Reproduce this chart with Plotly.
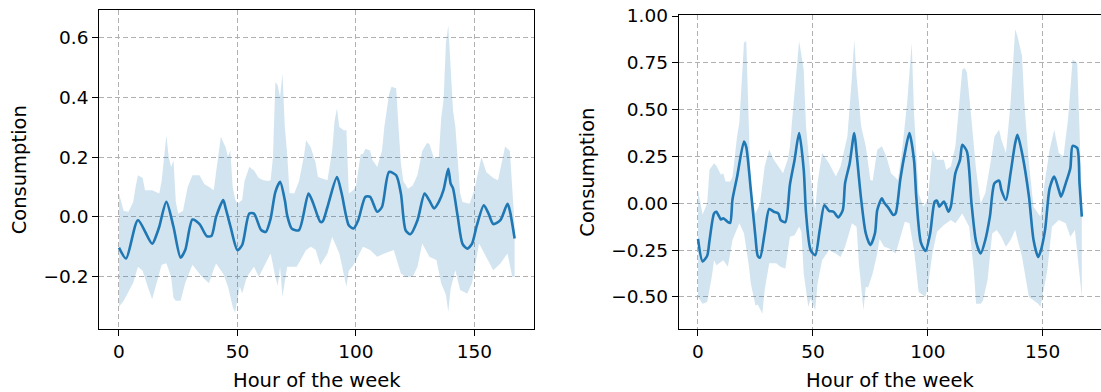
import plotly.graph_objects as go

# ---------------- Left panel data (hour of week, value) ----------------
left_mean_hours = [0, 3, 8, 14, 16, 17, 20, 23, 26, 28, 31, 34, 37, 39, 41, 44, 45, 47, 50, 52,
                   55, 57, 60, 62, 64, 66, 68, 70, 71, 73, 76, 80, 82, 85, 86, 88, 92, 94, 97, 99,
                   101, 104, 106, 109, 111, 114, 117, 119, 121, 123, 126, 129, 131, 133, 135, 137,
                   139, 140, 141, 143, 145, 147, 149, 151, 154, 156, 158, 161, 164, 165, 167]
left_mean = [-0.103, -0.139, -0.011, -0.09, -0.056, -0.033, 0.05, -0.033, -0.136, -0.11, -0.009,
             -0.024, -0.064, -0.064, 0.0, 0.056, 0.03, -0.03, -0.111, -0.094, 0.011, 0.011, -0.044,
             -0.05, -0.006, 0.083, 0.117, 0.056, 0.005, -0.04, -0.044, 0.078, 0.045, -0.017, -0.015,
             0.033, 0.133, 0.078, -0.028, -0.039, -0.011, 0.067, 0.067, 0.017, 0.033, 0.15, 0.139,
             0.078, -0.045, -0.058, -0.011, 0.078, 0.055, 0.028, 0.05, 0.09, 0.161, 0.111, 0.095,
             0.0, -0.09, -0.106, -0.09, -0.03, 0.039, 0.011, -0.024, -0.011, 0.044, 0.02, -0.072]

left_upper_hours = [0, 1, 2, 4, 6, 7, 8, 10, 11, 14, 17, 18, 20, 21, 22, 23, 24, 25, 27, 29, 31, 34,
                    36, 38, 40, 41, 42, 43, 45, 46, 47, 48, 49, 50, 52, 53, 55, 57, 59, 61, 63, 64,
                    65, 66, 67, 68, 69, 70, 71, 72, 74, 76, 78, 79, 81, 83, 84, 86, 88, 90, 91, 92,
                    93, 95, 96, 97, 99, 100, 102, 103, 104, 106, 107, 109, 111, 112, 114, 115, 117,
                    118, 119, 120, 122, 124, 126, 128, 130, 131, 133, 135, 136, 137, 138, 139, 140,
                    141, 142, 143, 144, 145, 148, 150, 152, 153, 155, 158, 160, 162, 163, 165, 166, 167]
left_upper = [0.078, 0.05, 0.02, 0.017, 0.05, 0.1, 0.139, 0.13, 0.089, 0.089, 0.078, 0.12, 0.272,
              0.2, 0.167, 0.189, 0.05, 0.011, 0.02, 0.1, 0.139, 0.139, 0.11, 0.1, 0.089, 0.15, 0.21,
              0.268, 0.233, 0.2, 0.222, 0.1, 0.06, 0.044, 0.056, 0.12, 0.167, 0.155, 0.13, 0.122,
              0.12, 0.122, 0.2, 0.45, 0.44, 0.4, 0.48, 0.3, 0.21, 0.08, 0.078, 0.12, 0.2, 0.256,
              0.232, 0.18, 0.133, 0.128, 0.122, 0.222, 0.32, 0.362, 0.3, 0.289, 0.29, 0.078, 0.09,
              0.1, 0.21, 0.21, 0.228, 0.222, 0.19, 0.167, 0.22, 0.3, 0.41, 0.435, 0.43, 0.3, 0.18,
              0.12, 0.094, 0.105, 0.14, 0.22, 0.247, 0.244, 0.195, 0.2, 0.33, 0.39, 0.58, 0.64,
              0.5, 0.356, 0.3, 0.19, 0.08, 0.05, 0.044, 0.09, 0.16, 0.2, 0.15, 0.13, 0.122, 0.2,
              0.235, 0.22, 0.1, -0.03]

left_lower_hours = [0, 2, 4, 6, 8, 10, 12, 14, 16, 18, 20, 22, 23, 24, 26, 28, 31, 33, 35, 38, 40,
                    41, 44, 46, 48, 49, 51, 52, 54, 57, 59, 61, 64, 66, 67, 68, 69, 71, 75, 79, 81,
                    83, 85, 88, 90, 93, 96, 97, 99, 103, 106, 109, 112, 116, 119, 121, 124, 126,
                    128, 131, 134, 136, 138, 139, 140, 142, 144, 147, 149, 152, 154, 158, 161, 164,
                    166, 167]
left_lower = [-0.30, -0.28, -0.25, -0.22, -0.167, -0.18, -0.23, -0.275, -0.22, -0.16, -0.155, -0.2,
              -0.27, -0.28, -0.28, -0.22, -0.16, -0.18, -0.2, -0.222, -0.175, -0.156, -0.19, -0.233,
              -0.30, -0.32, -0.233, -0.256, -0.2, -0.167, -0.2, -0.167, -0.122, -0.2, -0.23, -0.167,
              -0.267, -0.167, -0.167, -0.111, -0.1, -0.11, -0.161, -0.122, -0.067, -0.122, -0.233,
              -0.18, -0.161, -0.1, -0.111, -0.133, -0.122, -0.111, -0.189, -0.2, -0.2, -0.167,
              -0.089, -0.133, -0.144, -0.222, -0.26, -0.317, -0.24, -0.178, -0.244, -0.256, -0.222,
              -0.089, -0.122, -0.178, -0.156, -0.122, -0.2, -0.2]

# ---------------- Right panel data ----------------
right_mean_hours = [0, 2, 4, 5, 7, 8, 10, 11, 13, 14, 15, 17, 20, 21, 23, 25, 26, 27, 29, 31, 33,
                    35, 36, 38, 40, 42, 44, 46, 47, 49, 51, 53, 55, 57, 59, 61, 63, 64, 66, 68, 69,
                    71, 73, 75, 77, 78, 80, 81, 83, 85, 86, 88, 90, 92, 94, 95, 97, 99, 101, 103,
                    104, 105, 107, 109, 110, 112, 114, 115, 117, 119, 121, 123, 125, 127, 129, 131,
                    132, 134, 136, 138, 139, 141, 144, 146, 148, 149, 151, 153, 155, 157, 158, 160,
                    162, 163, 165, 166, 167]
right_mean = [-0.19, -0.31, -0.28, -0.2, -0.054, -0.045, -0.086, -0.08, -0.1, -0.105, 0.02, 0.14,
              0.33, 0.3, 0.07, -0.18, -0.28, -0.29, -0.16, -0.03, -0.045, -0.055, -0.09, -0.1, 0.1,
              0.23, 0.375, 0.18, -0.05, -0.25, -0.277, -0.14, -0.01, -0.04, -0.045, -0.075,
              -0.036, 0.107, 0.214, 0.375, 0.268, 0.02, -0.16, -0.223, -0.16, -0.036, 0.027, 0.004,
              -0.027, -0.0625, -0.054, 0.125, 0.268, 0.375, 0.23, 0.03, -0.21, -0.254, -0.161,
              0.009, 0.014, -0.018, 0.009, -0.045, -0.018, 0.161, 0.232, 0.3125, 0.277, 0.0,
              -0.205, -0.268, -0.196, -0.071, 0.107, 0.121, 0.071, 0.018, 0.161, 0.321, 0.366,
              0.268, 0.036, -0.196, -0.286, -0.259, -0.143, 0.08, 0.143, 0.071, 0.036, 0.107,
              0.1875, 0.307, 0.295, 0.107, -0.071]

right_upper_hours = [0, 2, 4, 5, 7, 8, 10, 11, 12, 14, 15, 17, 18, 19, 20, 21, 22, 23, 25, 27, 29,
                     31, 33, 35, 37, 39, 40, 41, 43, 44, 46, 47, 49, 51, 52, 54, 57, 60, 62, 65, 67,
                     68, 69, 71, 73, 75, 76, 78, 80, 82, 84, 87, 89, 91, 93, 94, 96, 98, 100, 102,
                     104, 107, 108, 110, 112, 115, 116, 117, 119, 121, 123, 125, 128, 129, 131, 132,
                     134, 136, 138, 139, 141, 142, 144, 146, 148, 149, 151, 153, 155, 157, 159, 161,
                     163, 165, 166, 167]
right_upper = [0.071, -0.06, 0.0, 0.179, 0.214, 0.2, 0.152, 0.16, 0.116, 0.116, 0.14, 0.357, 0.43,
               0.625, 0.857, 0.866, 0.446, 0.071, -0.054, 0.0, 0.196, 0.286, 0.232, 0.196, 0.161,
               0.232, 0.3, 0.45, 0.714, 0.866, 0.714, 0.411, 0.143, -0.036, 0.107, 0.268, 0.214,
               0.143, 0.196, 0.357, 0.679, 0.875, 0.679, 0.41, 0.304, 0.125, 0.12, 0.286, 0.304,
               0.25, 0.161, 0.125, 0.304, 0.536, 0.857, 0.482, 0.054, -0.018, 0.018, 0.286, 0.232,
               0.232, 0.179, 0.196, 0.304, 0.714, 0.723, 0.7, 0.446, 0.179, 0.0, 0.054, 0.268,
               0.357, 0.393, 0.339, 0.268, 0.536, 0.929, 0.893, 0.786, 0.536, 0.214, -0.018,
               -0.054, -0.071, 0.125, 0.286, 0.393, 0.268, 0.25, 0.446, 0.768, 0.75, 0.393, 0.0]

right_lower_hours = [0, 2, 4, 6, 7, 8, 11, 13, 15, 18, 20, 22, 23, 25, 26, 28, 29, 31, 34, 36, 38,
                     40, 42, 44, 45, 46, 48, 49, 51, 52, 54, 57, 60, 62, 64, 67, 69, 70, 72, 73, 74,
                     76, 78, 79, 81, 83, 86, 88, 90, 92, 94, 96, 99, 100, 102, 104, 107, 110, 112,
                     115, 118, 120, 121, 123, 124, 126, 128, 130, 132, 134, 136, 138, 141, 144, 146,
                     148, 149, 152, 154, 157, 160, 162, 164, 165, 167]
right_lower = [-0.5, -0.536, -0.527, -0.393, -0.304, -0.33, -0.304, -0.339, -0.196, -0.107, -0.16,
               -0.32, -0.43, -0.545, -0.54, -0.59, -0.464, -0.32, -0.32, -0.34, -0.348, -0.179,
               -0.17, -0.125, -0.15, -0.375, -0.554, -0.509, -0.571, -0.43, -0.304, -0.25, -0.268,
               -0.286, -0.232, -0.107, -0.125, -0.32, -0.571, -0.446, -0.45, -0.375, -0.268, -0.19,
               -0.232, -0.24, -0.268, -0.179, -0.098, -0.107, -0.25, -0.473, -0.5, -0.446, -0.268,
               -0.152, -0.116, -0.089, -0.107, -0.054, -0.125, -0.357, -0.536, -0.536, -0.52,
               -0.41, -0.161, -0.143, -0.18, -0.232, -0.196, -0.143, -0.286, -0.5, -0.518, -0.536,
               -0.554, -0.357, -0.125, -0.089, -0.107, -0.179, -0.143, -0.25, -0.5]

x_ticks = [0, 50, 100, 150]
x_title = "Hour of the week"
y_title = "Consumption"

LINE = "#1f77b4"
BAND = "rgba(31,119,180,0.2)"
FONT = dict(family="DejaVu Sans", size=18.5, color="black")
TITLE_FONT = dict(family="DejaVu Sans", size=19.5, color="black")

fig = go.Figure()

panels = [
    (left_mean_hours, left_mean, left_upper_hours, left_upper, left_lower_hours, left_lower, "x", "y"),
    (right_mean_hours, right_mean, right_upper_hours, right_upper, right_lower_hours, right_lower, "x2", "y2"),
]
for mh, m, uh, u, lh, lo, xa, ya in panels:
    fig.add_trace(go.Scatter(
        x=list(uh) + list(lh)[::-1], y=list(u) + list(lo)[::-1],
        fill="toself", fillcolor=BAND, line=dict(width=0), mode="lines",
        hoverinfo="skip", showlegend=False, xaxis=xa, yaxis=ya))
    fig.add_trace(go.Scatter(
        x=mh, y=m, mode="lines", line=dict(color=LINE, width=2.6, shape="spline", smoothing=0.7),
        showlegend=False, xaxis=xa, yaxis=ya))

W, H = 1101, 392
axis_common = dict(
    showline=True, linecolor="black", linewidth=1.1, mirror=True,
    ticks="outside", ticklen=6, tickwidth=1.1, tickcolor="black",
    showgrid=True, gridcolor="#b0b0b0", gridwidth=1, griddash="5px,3px",
    zeroline=False, tickfont=FONT, automargin=False,
)

fig.update_layout(
    width=W, height=H,
    margin=dict(l=0, r=0, t=0, b=0),
    paper_bgcolor="white", plot_bgcolor="white",
    font=FONT,
    xaxis=dict(domain=[99.2 / W, 534.4 / W], range=[-8.35, 175.35], tickvals=x_ticks,
               title=dict(text=x_title, font=TITLE_FONT, standoff=12), anchor="y", **axis_common),
    yaxis=dict(domain=[(H - 329.1) / H, (H - 10.4) / H], range=[-0.375, 0.69],
               tickvals=[-0.2, 0.0, 0.2, 0.4, 0.6], tickformat=".1f",
               title=dict(text=y_title, font=TITLE_FONT, standoff=11), anchor="x", **axis_common),
    xaxis2=dict(domain=[678.8 / W, 1.0], range=[-8.35, 175.35], tickvals=x_ticks,
                title=dict(text=x_title, font=TITLE_FONT, standoff=12), anchor="y2", **axis_common),
    yaxis2=dict(domain=[(H - 329.2) / H, (H - 15.06) / H], range=[-0.672, 1.005],
                tickvals=[-0.5, -0.25, 0.0, 0.25, 0.5, 0.75, 1.0], tickformat=".2f",
                title=dict(text=y_title, font=TITLE_FONT, standoff=11), anchor="x2", **axis_common),
)

fig.write_html("out.html")
